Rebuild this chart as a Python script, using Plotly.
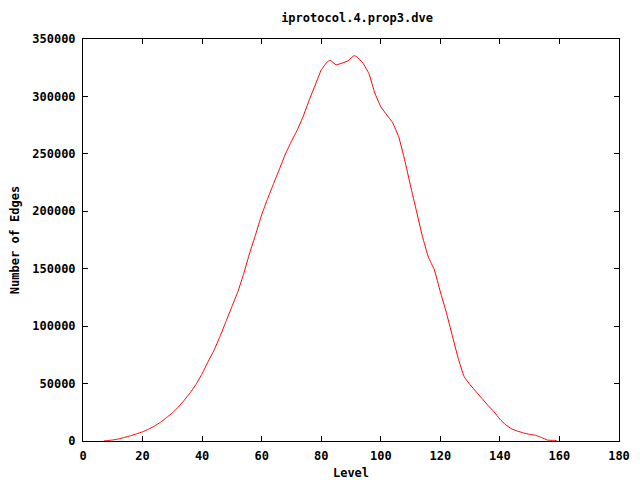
import plotly.graph_objects as go

levels = [7, 8, 10, 12, 14, 16, 18, 20, 22, 24, 26, 28, 30, 32, 34, 36, 38, 40, 42, 44,
          46, 48, 50, 52, 54, 56, 58, 60, 62, 64, 66, 68, 70, 72, 74, 76, 78, 80, 82, 83,
          85, 87, 89, 91, 92, 94, 96, 98, 100, 102, 104, 106, 108, 110, 112, 114, 116, 118,
          120, 122, 124, 126, 128, 130, 132, 134, 136, 138, 140, 142, 144, 146, 148, 150,
          152, 154, 156, 158, 159]
edges = [0, 300, 900, 1800, 3200, 4600, 6200, 8000, 10300, 13000, 16300, 20300, 24500,
         29500, 35500, 42000, 49500, 58500, 69000, 79000, 91000, 104000, 117000, 130000,
         146000, 164000, 180000, 197000, 211000, 224000, 237000, 250000, 261000, 271000,
         283000, 297000, 310000, 323000, 330000, 331500, 327500, 329000, 331000, 335500,
         334500, 329000, 320000, 303000, 291000, 284000, 277000, 265000, 245000, 222000,
         200000, 178000, 160000, 149000, 130000, 112000, 92000, 72000, 56000, 49000, 43000,
         37000, 31000, 25500, 19000, 14000, 10500, 8500, 7000, 5800, 5000, 3000, 800, 500, 400]

title_text = "iprotocol.4.prop3.dve"
x_title = "Level"
y_title = "Number of Edges"

FONT = dict(family="DejaVu Sans Mono", size=12, color="black", weight="bold")

fig = go.Figure()
fig.add_trace(go.Scatter(x=levels, y=edges, mode="lines",
                         line=dict(color="#ff0000", width=1, shape="spline", smoothing=0.3),
                         showlegend=False, hoverinfo="skip"))

axis_common = dict(showgrid=False, zeroline=False, showline=True, linecolor="black",
                   linewidth=1, mirror="ticks", ticks="inside", ticklen=5, tickcolor="black",
                   tickfont=FONT, automargin=False, tickformat="d")

W, H = 632, 472
fig.update_layout(
    width=W, height=H,
    paper_bgcolor="white", plot_bgcolor="white",
    margin=dict(l=75, r=21, t=31, b=39),
    title=dict(text=title_text, x=(357 - 8) / W, xanchor="center", y=1 - 10/H,
               yanchor="middle", xref="container", yref="container", font=FONT),
    font=FONT,
    xaxis=dict(range=[0, 180], dtick=20, tick0=0,
               title=dict(text=x_title, font=FONT, standoff=7),
               ticklabelstandoff=4, **axis_common),
    yaxis=dict(range=[0, 350000], dtick=50000, tick0=0,
               title=dict(text=y_title, font=FONT, standoff=11),
               ticklabelstandoff=4, **axis_common),
)

fig.write_html("out.html")
